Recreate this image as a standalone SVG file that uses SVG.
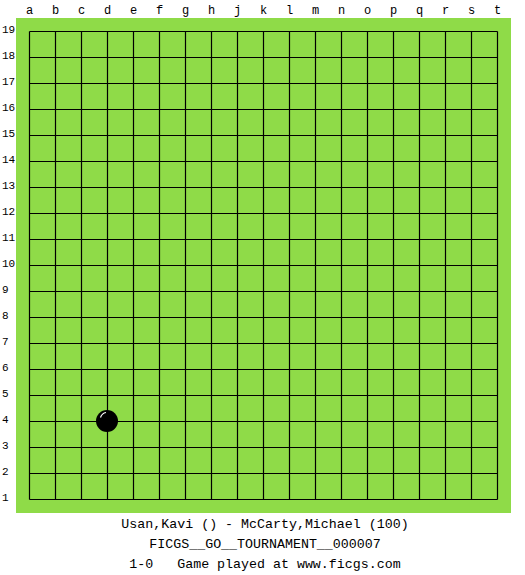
<svg xmlns="http://www.w3.org/2000/svg" width="525" height="575" viewBox="0 0 525 575">
<style>
.lbl{font-family:"Liberation Mono","DejaVu Sans Mono",monospace;font-size:12px;fill:#000}
.row{font-size:11px}
.col{text-anchor:middle}
.foot{font-family:"Liberation Mono","DejaVu Sans Mono",monospace;font-size:13.3px;fill:#000;text-anchor:middle}
.grid line{stroke:#000;stroke-width:1.2}
</style>
<rect width="525" height="575" fill="#fff"/>
<rect id="board" x="16" y="18" width="495" height="495" fill="#8fdb48"/>
<g id="grid" class="grid">
<line x1="29.5" y1="31.5" x2="29.5" y2="499.5"/>
<line x1="55.5" y1="31.5" x2="55.5" y2="499.5"/>
<line x1="81.5" y1="31.5" x2="81.5" y2="499.5"/>
<line x1="107.5" y1="31.5" x2="107.5" y2="499.5"/>
<line x1="133.5" y1="31.5" x2="133.5" y2="499.5"/>
<line x1="159.5" y1="31.5" x2="159.5" y2="499.5"/>
<line x1="185.5" y1="31.5" x2="185.5" y2="499.5"/>
<line x1="211.5" y1="31.5" x2="211.5" y2="499.5"/>
<line x1="237.5" y1="31.5" x2="237.5" y2="499.5"/>
<line x1="263.5" y1="31.5" x2="263.5" y2="499.5"/>
<line x1="289.5" y1="31.5" x2="289.5" y2="499.5"/>
<line x1="315.5" y1="31.5" x2="315.5" y2="499.5"/>
<line x1="341.5" y1="31.5" x2="341.5" y2="499.5"/>
<line x1="367.5" y1="31.5" x2="367.5" y2="499.5"/>
<line x1="393.5" y1="31.5" x2="393.5" y2="499.5"/>
<line x1="419.5" y1="31.5" x2="419.5" y2="499.5"/>
<line x1="445.5" y1="31.5" x2="445.5" y2="499.5"/>
<line x1="471.5" y1="31.5" x2="471.5" y2="499.5"/>
<line x1="497.5" y1="31.5" x2="497.5" y2="499.5"/>
<line x1="29.5" y1="31.5" x2="497.5" y2="31.5"/>
<line x1="29.5" y1="57.5" x2="497.5" y2="57.5"/>
<line x1="29.5" y1="83.5" x2="497.5" y2="83.5"/>
<line x1="29.5" y1="109.5" x2="497.5" y2="109.5"/>
<line x1="29.5" y1="135.5" x2="497.5" y2="135.5"/>
<line x1="29.5" y1="161.5" x2="497.5" y2="161.5"/>
<line x1="29.5" y1="187.5" x2="497.5" y2="187.5"/>
<line x1="29.5" y1="213.5" x2="497.5" y2="213.5"/>
<line x1="29.5" y1="239.5" x2="497.5" y2="239.5"/>
<line x1="29.5" y1="265.5" x2="497.5" y2="265.5"/>
<line x1="29.5" y1="291.5" x2="497.5" y2="291.5"/>
<line x1="29.5" y1="317.5" x2="497.5" y2="317.5"/>
<line x1="29.5" y1="343.5" x2="497.5" y2="343.5"/>
<line x1="29.5" y1="369.5" x2="497.5" y2="369.5"/>
<line x1="29.5" y1="395.5" x2="497.5" y2="395.5"/>
<line x1="29.5" y1="421.5" x2="497.5" y2="421.5"/>
<line x1="29.5" y1="447.5" x2="497.5" y2="447.5"/>
<line x1="29.5" y1="473.5" x2="497.5" y2="473.5"/>
<line x1="29.5" y1="499.5" x2="497.5" y2="499.5"/>
</g>
<g id="col-labels" class="lbl col">
<text x="29.5" y="14">a</text>
<text x="55.5" y="14">b</text>
<text x="81.5" y="14">c</text>
<text x="107.5" y="14">d</text>
<text x="133.5" y="14">e</text>
<text x="159.5" y="14">f</text>
<text x="185.5" y="14">g</text>
<text x="211.5" y="14">h</text>
<text x="237.5" y="14">j</text>
<text x="263.5" y="14">k</text>
<text x="289.5" y="14">l</text>
<text x="315.5" y="14">m</text>
<text x="341.5" y="14">n</text>
<text x="367.5" y="14">o</text>
<text x="393.5" y="14">p</text>
<text x="419.5" y="14">q</text>
<text x="445.5" y="14">r</text>
<text x="471.5" y="14">s</text>
<text x="497.5" y="14">t</text>
</g>
<g id="row-labels" class="lbl row">
<text x="2" y="33">19</text>
<text x="2" y="59">18</text>
<text x="2" y="85">17</text>
<text x="2" y="111">16</text>
<text x="2" y="137">15</text>
<text x="2" y="163">14</text>
<text x="2" y="189">13</text>
<text x="2" y="215">12</text>
<text x="2" y="241">11</text>
<text x="2" y="267">10</text>
<text x="2" y="293">9</text>
<text x="2" y="319">8</text>
<text x="2" y="345">7</text>
<text x="2" y="371">6</text>
<text x="2" y="397">5</text>
<text x="2" y="423">4</text>
<text x="2" y="449">3</text>
<text x="2" y="475">2</text>
<text x="2" y="501">1</text>
</g>
<g id="stone-d4">
<circle cx="107" cy="421" r="11" fill="#000"/>
<path d="M100.5 417.5 Q102 413 106 412.5" fill="none" stroke="#fff" stroke-width="1.2"/>
</g>
<g id="footer" class="foot">
<text x="265" y="528">Usan,Kavi () - McCarty,Michael (100)</text>
<text x="265" y="548">FICGS__GO__TOURNAMENT__000007</text>
<text x="265" y="568">1-0&#160;&#160;&#160;Game played at www.ficgs.com</text>
</g>
</svg>
